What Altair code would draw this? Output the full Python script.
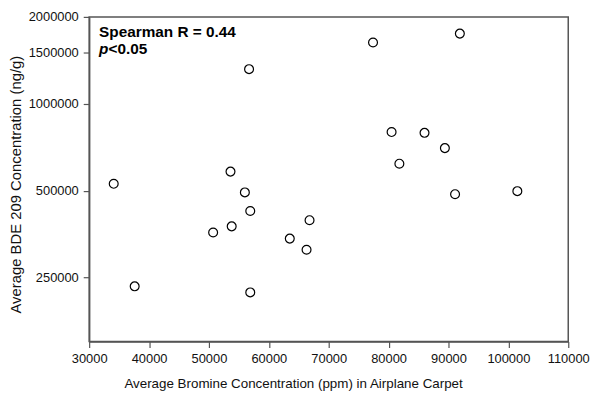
import altair as alt
import pandas as pd

# Data
bromine_ppm = [91900, 77400, 56700, 80500, 86000, 89400, 81800, 53600, 56000, 91100,
               101500, 56900, 53800, 50700, 66800, 63500, 66300, 56900, 34100, 37600]
bde209_ngg = [1750000, 1630000, 1318000, 798000, 793000, 702000, 620000, 582000, 493000, 486000,
              498000, 425000, 376000, 358000, 395000, 341000, 312000, 222000, 528000, 233000]

x_ticks = [30000, 40000, 50000, 60000, 70000, 80000, 90000, 100000, 110000]
y_ticks = [250000, 500000, 1000000, 1500000, 2000000]

ann_line1 = ["Spearman R = 0.44"]
ann_p = ["p"]
ann_rest = ["<0.05"]

df = pd.DataFrame({"bromine": bromine_ppm, "bde": bde209_ngg})

FONT = "Liberation Sans"
W, H = 484, 328

points = alt.Chart(df).mark_point(
    shape="circle", filled=False, size=80, stroke="black", strokeWidth=1.2, opacity=1
).encode(
    x=alt.X("bromine:Q",
            scale=alt.Scale(domain=[30000, 110000], nice=False, zero=False),
            axis=alt.Axis(values=x_ticks, format="d", labelOverlap=False, labelFlush=False,
                          title="Average Bromine Concentration (ppm) in  Airplane Carpet",
                          titleFontSize=13.5, titleX=206, titleAlign="center",
                          titlePadding=11)),
    y=alt.Y("bde:Q",
            scale=alt.Scale(type="log", domain=[150000, 2000000], nice=False),
            axis=alt.Axis(values=y_ticks, format="d", labelOverlap=False, labelFlush=False,
                          title="Average BDE 209 Concentration (ng/g)",
                          titleFontSize=15, titleY=169, titleAlign="center",
                          titlePadding=5)),
)

t1 = alt.Chart(pd.DataFrame({"t": ann_line1})).mark_text(
    align="left", baseline="alphabetic", font=FONT, fontSize=15.5, fontWeight="bold", color="black"
).encode(text="t:N", x=alt.value(10), y=alt.value(20))

t2 = alt.Chart(pd.DataFrame({"t": ann_p})).mark_text(
    align="left", baseline="alphabetic", font=FONT, fontSize=15.5, fontWeight="bold",
    fontStyle="italic", color="black"
).encode(text="t:N", x=alt.value(10), y=alt.value(37))

t3 = alt.Chart(pd.DataFrame({"t": ann_rest})).mark_text(
    align="left", baseline="alphabetic", font=FONT, fontSize=15.5, fontWeight="bold", color="black"
).encode(text="t:N", x=alt.value(19.5), y=alt.value(37))

chart = alt.layer(points, t1, t2, t3).properties(
    width=W, height=H,
    autosize=alt.AutoSizeParams(type="none"),
    padding={"left": 82, "top": 7, "right": 24, "bottom": 50},
    background="white",
).configure_view(
    stroke="#555555", strokeWidth=1.5
).configure_axis(
    grid=False,
    domainColor="#555555", domainWidth=1.5,
    tickColor="#555555", tickSize=6, tickWidth=1.2,
    labelFont=FONT, labelFontSize=13, labelColor="#111111", labelPadding=5,
    titleFont=FONT, titleFontWeight="normal", titleColor="#111111",
)

chart.save("out.html", embed_options={"renderer": "svg", "actions": False})
